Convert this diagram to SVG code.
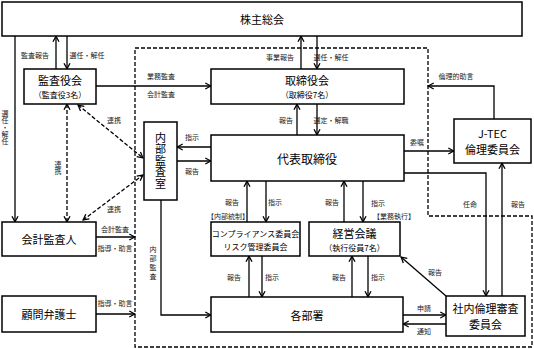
<svg xmlns="http://www.w3.org/2000/svg" width="534" height="349" viewBox="0 0 534 349">
<defs>
<marker id="arr" viewBox="0 0 8 8" refX="7.2" refY="4" markerWidth="8" markerHeight="8" markerUnits="userSpaceOnUse" orient="auto-start-reverse">
<path d="M1.5,1 L7,4 L1.5,7" fill="none" stroke="#000" stroke-width="1.3"/>
</marker>
<style>
rect.box{fill:#fff;stroke:#000;stroke-width:1.5}
text{font-family:"Noto Sans CJK JP","Noto Sans",sans-serif;fill:#000;text-anchor:middle;dominant-baseline:central}
.t{font-size:11px}
.t12{font-size:12px}
.s{font-size:8px}
.l{font-size:7px;fill:#222}
.v{writing-mode:vertical-rl;text-orientation:upright;dominant-baseline:auto}
.ca{fill:none;stroke:#000;stroke-width:1.3;marker-end:url(#arr)}
.cd{fill:none;stroke:#000;stroke-width:1.3;stroke-dasharray:4 2;marker-start:url(#arr);marker-end:url(#arr)}
.region{fill:none;stroke:#000;stroke-width:1.3;stroke-dasharray:4 2}
</style>
</defs>
<path class="region" d="M135,48 H428 V216 H532 V347 H135 Z"/>
<g id="connectors">
<path class="ca" d="M56,69 V36"/>
<path class="ca" d="M67,36 V69"/>
<path class="ca" d="M15,36 V222"/>
<path class="ca" d="M96,86 H211"/>
<path class="ca" d="M301,69 V36"/>
<path class="ca" d="M317,36 V69"/>
<path class="ca" d="M297,135 V104"/>
<path class="ca" d="M317,104 V135"/>
<path class="ca" d="M211,147 H177"/>
<path class="ca" d="M177,161 H211"/>
<path class="cd" d="M67,104 V222"/>
<path class="cd" d="M78,105 L143,158"/>
<path class="cd" d="M83,220 L143,175"/>
<path class="ca" d="M96,237 H135"/>
<path class="ca" d="M96,314 H135"/>
<path class="ca" d="M161,200 V315 H211"/>
<path class="ca" d="M247,222 V181"/>
<path class="ca" d="M266,181 V222"/>
<path class="ca" d="M344,222 V181"/>
<path class="ca" d="M363,181 V222"/>
<path class="ca" d="M249,297 V256"/>
<path class="ca" d="M262,256 V297"/>
<path class="ca" d="M352,297 V256"/>
<path class="ca" d="M368,256 V297"/>
<path class="ca" d="M446,296 L401,257"/>
<path class="ca" d="M403,315 H446"/>
<path class="ca" d="M446,324 H403"/>
<path class="ca" d="M404,151 H454"/>
<path class="ca" d="M404,173 H486 V296"/>
<path class="ca" d="M502,296 V163"/>
<path class="ca" d="M494,119 V86 H428"/>
<text class="l" x="35" y="55">監査報告</text>
<text class="l" x="87" y="55">選任・解任</text>
<text class="l v" x="5" y="127">選任・解任</text>
<text class="l" x="161" y="76">業務監査</text>
<text class="l" x="161" y="94">会計監査</text>
<text class="l" x="280" y="57">事業報告</text>
<text class="l" x="331" y="57">選任・解任</text>
<text class="l" x="286" y="120">報告</text>
<text class="l" x="331" y="120">選定・解職</text>
<text class="l" x="192" y="137">指示</text>
<text class="l" x="192" y="171">報告</text>
<text class="l" x="114" y="120">連携</text>
<text class="l v" x="58" y="168">連携</text>
<text class="l" x="114" y="209">連携</text>
<text class="l" x="115" y="229">会計監査</text>
<text class="l" x="115" y="248">指導・助言</text>
<text class="l" x="115" y="303">指導・助言</text>
<text class="l v" x="153" y="264" letter-spacing="2">内部監査</text>
<text class="l" x="232" y="202">報告</text>
<text class="l" x="275" y="202">指示</text>
<text class="l" x="228" y="216">【内部統制】</text>
<text class="l" x="332" y="202">報告</text>
<text class="l" x="378" y="203">指示</text>
<text class="l" x="394" y="216">【業務執行】</text>
<text class="l" x="417" y="142">委嘱</text>
<text class="l" x="470" y="204">任命</text>
<text class="l" x="518" y="204">報告</text>
<text class="l" x="456" y="76">倫理的助言</text>
<text class="l" x="234" y="277">報告</text>
<text class="l" x="272" y="277">指示</text>
<text class="l" x="339" y="277">報告</text>
<text class="l" x="378" y="277">指示</text>
<text class="l" x="435" y="272">報告</text>
<text class="l" x="424" y="308">申請</text>
<text class="l" x="424" y="331">通知</text>
</g>
<g id="kabunushi"><rect class="box" x="2" y="2" width="520" height="34"/><text class="t" x="262" y="19">株主総会</text></g>
<g id="kansayakukai"><rect class="box" x="24" y="69" width="72" height="35"/><text class="t" x="60" y="80">監査役会</text><text class="s" x="60" y="94">（監査役3名）</text></g>
<g id="torishimariyakukai"><rect class="box" x="211" y="69" width="193" height="35"/><text class="t" x="307" y="80">取締役会</text><text class="s" x="307" y="94">（取締役7名）</text></g>
<g id="naibukansashitsu"><rect class="box" x="144" y="122" width="33" height="78"/><text class="t v" x="160.5" y="161" letter-spacing="0.5">内部監査室</text></g>
<g id="daihyo"><rect class="box" x="211" y="135" width="193" height="46"/><text class="t12" x="307" y="158">代表取締役</text></g>
<g id="jtec"><rect class="box" x="454" y="119" width="77" height="44"/><text class="t" x="492.5" y="133">J-TEC</text><text class="t" x="492.5" y="149">倫理委員会</text></g>
<g id="compliance"><rect class="box" x="211" y="222" width="89" height="34"/><text class="s" x="255.5" y="233">コンプライアンス委員会</text><text class="s" x="255.5" y="246">リスク管理委員会</text></g>
<g id="keieikaigi"><rect class="box" x="309" y="222" width="91" height="34"/><text class="t" x="354.5" y="233">経営会議</text><text class="s" x="354.5" y="247">（執行役員7名）</text></g>
<g id="kakubusho"><rect class="box" x="211" y="297" width="192" height="35"/><text class="t" x="307" y="315">各部署</text></g>
<g id="shanairinri"><rect class="box" x="446" y="296" width="79" height="40"/><text class="t" x="485.5" y="308">社内倫理審査</text><text class="t" x="485.5" y="324">委員会</text></g>
<g id="kaikeikansanin"><rect class="box" x="2" y="222" width="94" height="34"/><text class="t" x="49" y="239">会計監査人</text></g>
<g id="komon"><rect class="box" x="2" y="296" width="94" height="36"/><text class="t" x="49" y="314">顧問弁護士</text></g>
</svg>
